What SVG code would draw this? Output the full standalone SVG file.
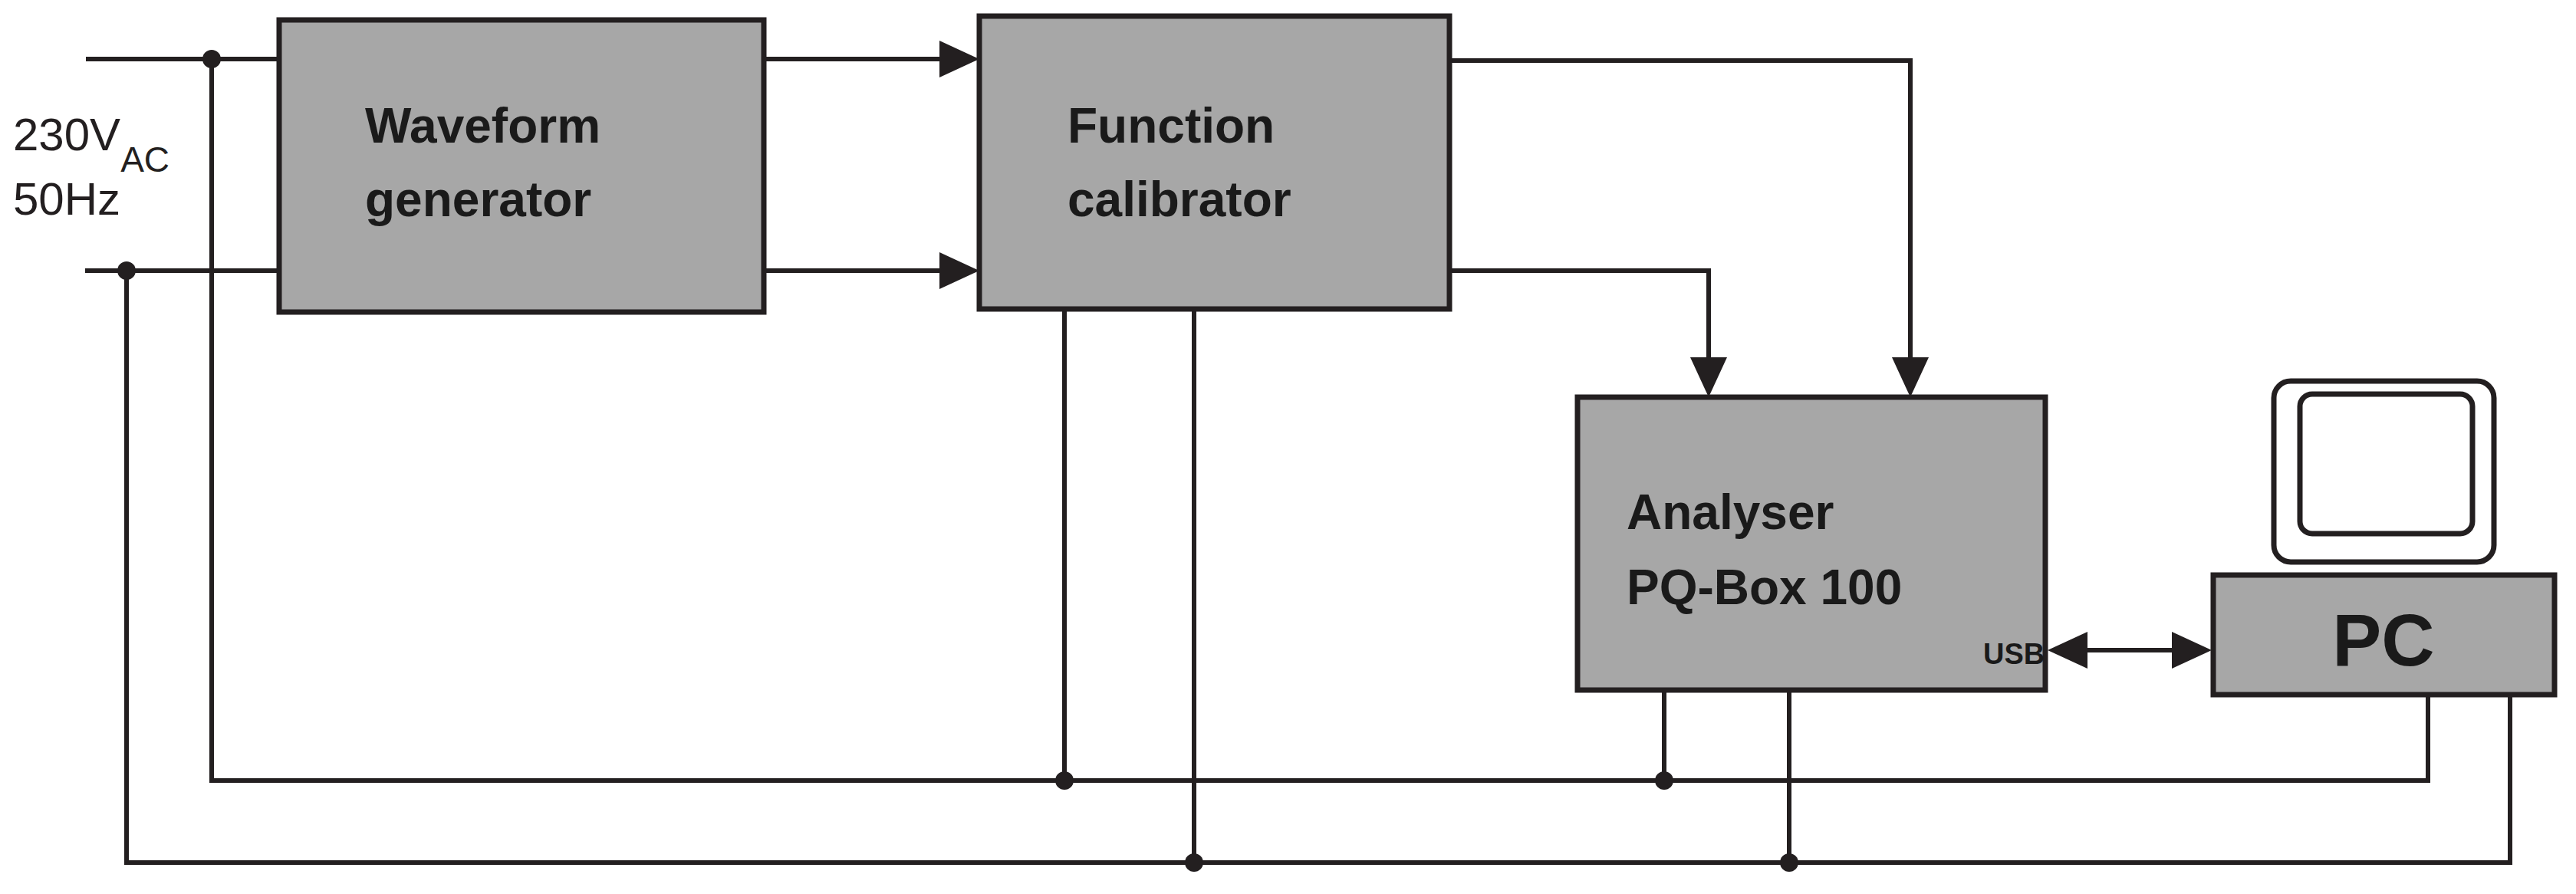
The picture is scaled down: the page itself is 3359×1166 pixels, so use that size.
<svg xmlns="http://www.w3.org/2000/svg" width="3359" height="1166" viewBox="0 0 3359 1166">
<style>
.box{fill:#a7a7a7;stroke:#231f20;stroke-width:7}
.w{fill:none;stroke:#231f20;stroke-width:6}
.t{font-family:"Liberation Sans",Arial,sans-serif;font-weight:bold;fill:#1a1a1a}
.n{font-family:"Liberation Sans",Arial,sans-serif;fill:#231f20}
.d{fill:#231f20}
</style>
<defs>
<marker id="ah" viewBox="0 0 10 10" refX="10" refY="5" markerWidth="8" markerHeight="8" markerUnits="userSpaceOnUse" orient="auto-start-reverse" style="overflow:visible">
<path d="M0,0 L10,5 L0,10 z" fill="#231f20" transform="scale(5) translate(-0,0)"/>
</marker>
</defs>
<rect width="3359" height="1166" fill="#fff"/>
<g id="connectors">
<path class="w" d="M112,77 H364 M111,353 H364"/>
<path class="w" d="M276,77 V1018 H3166 V906"/>
<path class="w" d="M165,353 V1125 H3273 V906"/>
<path class="w" d="M1388,403 V1018 M1557,403 V1125 M2170,900 V1018 M2333,900 V1125"/>
<path class="w" d="M996,77 H1225" /><path class="d" d="M1277,77 l-52,-24 v48 z"/>
<path class="w" d="M996,353 H1225" /><path class="d" d="M1277,353 l-52,-24 v48 z"/>
<path class="w" d="M1890,79 H2491 V466"/><path class="d" d="M2491,518 l-24,-52 h48 z"/>
<path class="w" d="M1890,353 H2228 V466"/><path class="d" d="M2228,518 l-24,-52 h48 z"/>
<path class="w" d="M2720,848 H2834"/><path class="d" d="M2670,848 l52,-24 v48 z"/><path class="d" d="M2884,848 l-52,-24 v48 z"/>
<circle class="d" cx="276" cy="77" r="12"/>
<circle class="d" cx="165" cy="353" r="12"/>
<circle class="d" cx="1388" cy="1018" r="12"/>
<circle class="d" cx="2170" cy="1018" r="12"/>
<circle class="d" cx="1557" cy="1125" r="12"/>
<circle class="d" cx="2333" cy="1125" r="12"/>
</g>
<g id="supply">
<text class="n" x="17" y="196" font-size="60">230V<tspan font-size="46" dy="28">AC</tspan></text>
<text class="n" x="17" y="280" font-size="60">50Hz</text>
</g>
<g id="waveform">
<rect class="box" x="364" y="26" width="632" height="381"/>
<text class="t" x="476" y="186" font-size="64">Waveform</text>
<text class="t" x="476" y="282" font-size="64">generator</text>
</g>
<g id="calibrator">
<rect class="box" x="1277" y="21" width="613" height="382"/>
<text class="t" x="1392" y="186" font-size="64">Function</text>
<text class="t" x="1392" y="282" font-size="64">calibrator</text>
</g>
<g id="analyser">
<rect class="box" x="2057" y="518" width="610" height="382"/>
<text class="t" x="2121" y="690" font-size="64">Analyser</text>
<text class="t" x="2121" y="788" font-size="64">PQ-Box 100</text>
<text class="t" x="2586" y="866" font-size="38">USB</text>
</g>
<g id="pc">
<rect x="2965" y="497" width="287" height="236" rx="22" fill="#fff" stroke="#231f20" stroke-width="7"/>
<rect x="2999" y="514" width="225" height="182" rx="16" fill="#fff" stroke="#231f20" stroke-width="7"/>
<rect class="box" x="2886" y="750" width="445" height="156"/>
<text class="t" x="3108" y="868" font-size="96" text-anchor="middle">PC</text>
</g>
</svg>
